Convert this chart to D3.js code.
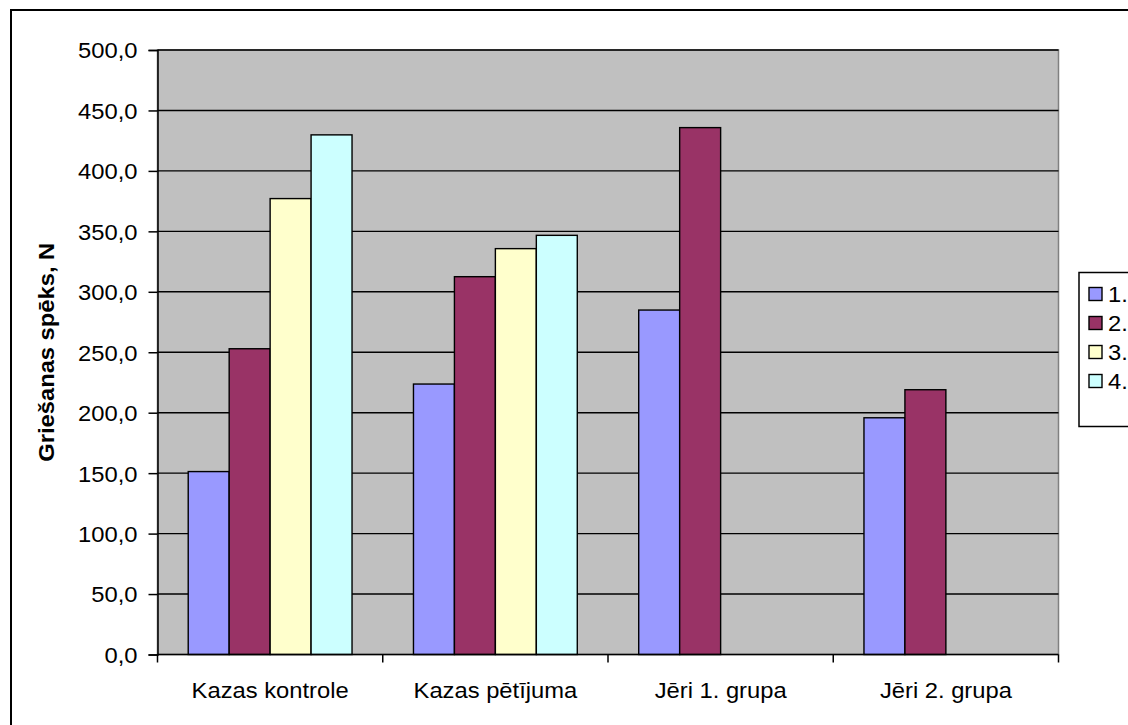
<!DOCTYPE html>
<html>
<head>
<meta charset="utf-8">
<script src="https://cdn.jsdelivr.net/npm/d3@7"></script>
<style>
  html, body { margin: 0; padding: 0; background: #fff; }
  svg { display: block; }
  text { font-family: "Liberation Sans", Arial, sans-serif; fill: #000; }
</style>
</head>
<body>
<svg id="chart" width="1128" height="725"></svg>
<script>
// Cutting force by group and measurement
const categories = ["Kazas kontrole", "Kazas pētījuma", "Jēri 1. grupa", "Jēri 2. grupa"];
const seriesNames = ["1.", "2.", "3.", "4."];
const series1 = [151.3, 223.7, 284.9, 195.8];
const series2 = [252.9, 312.5, 435.8, 219.0];
const series3 = [377.1, 335.7, null, null];
const series4 = [429.8, 346.7, null, null];
const yTicks = [0, 50, 100, 150, 200, 250, 300, 350, 400, 450, 500];
const colors = ["#9999ff", "#993366", "#ffffcc", "#ccffff"];
const yTitle = "Griešanas spēks, N";

const allSeries = [series1, series2, series3, series4];

const svg = d3.select("#chart");
const plot = { left: 157.5, right: 1058.5, top: 50, bottom: 654.5 };
const fs = 22;   // label font size
const sx = 1.08; // horizontal text stretch

// outer frame
svg.append("rect")
  .attr("x", 11).attr("y", 10)
  .attr("width", 1140).attr("height", 740)
  .attr("fill", "#fff").attr("stroke", "#000").attr("stroke-width", 2);

const y = d3.scaleLinear().domain([0, 500]).range([plot.bottom, plot.top]);
const x0 = d3.scaleBand().domain(categories).range([plot.left, plot.right]).padding(0);
const bw = x0.bandwidth();
const unit = bw / 5.5;
const x1 = d3.scaleBand().domain(d3.range(4)).range([0.75 * unit, 4.75 * unit]).padding(0);

// plot background
svg.append("rect")
  .attr("x", plot.left).attr("y", plot.top)
  .attr("width", plot.right - plot.left).attr("height", plot.bottom - plot.top)
  .attr("fill", "#c0c0c0").attr("stroke", "#808080").attr("stroke-width", 1.5);

// gridlines
svg.append("g")
  .selectAll("line")
  .data(yTicks.filter(d => d > 0))
  .join("line")
  .attr("x1", plot.left).attr("x2", plot.right)
  .attr("y1", d => y(d)).attr("y2", d => y(d))
  .attr("stroke", "#000").attr("stroke-width", 1.4);

// bars
const rows = [];
categories.forEach((c, i) => {
  allSeries.forEach((s, j) => {
    if (s[i] != null) rows.push({ cat: c, si: j, v: s[i] });
  });
});
svg.append("g")
  .selectAll("rect")
  .data(rows)
  .join("rect")
  .attr("x", d => x0(d.cat) + x1(d.si))
  .attr("y", d => y(d.v))
  .attr("width", x1.bandwidth())
  .attr("height", d => y(0) - y(d.v))
  .attr("fill", d => colors[d.si])
  .attr("stroke", "#000").attr("stroke-width", 1.4);

// y axis
const yAxis = svg.append("g")
  .attr("transform", `translate(${plot.left},0)`)
  .call(d3.axisLeft(y).tickValues(yTicks).tickSize(9).tickPadding(0)
    .tickFormat(d => d3.format(".1f")(d).replace(".", ",")));
yAxis.select(".domain").attr("stroke", "#000").attr("stroke-width", 1.5);
yAxis.selectAll(".tick line").attr("stroke", "#000").attr("stroke-width", 1.5);
yAxis.selectAll(".tick text")
  .attr("x", 0).attr("dy", "0.36em")
  .attr("font-size", fs)
  .attr("font-family", "Liberation Sans, Arial, sans-serif")
  .attr("text-anchor", "end")
  .attr("transform", `translate(-20,0) scale(${sx},1)`);

// x axis
const xAxis = svg.append("g")
  .attr("transform", `translate(0,${plot.bottom})`);
xAxis.append("line")
  .attr("x1", plot.left).attr("x2", plot.right)
  .attr("stroke", "#000").attr("stroke-width", 1.5);
xAxis.selectAll("line.tk")
  .data(d3.range(categories.length + 1))
  .join("line").attr("class", "tk")
  .attr("x1", i => plot.left + i * bw).attr("x2", i => plot.left + i * bw)
  .attr("y1", 0).attr("y2", 8)
  .attr("stroke", "#000").attr("stroke-width", 1.5);
xAxis.selectAll("text")
  .data(categories)
  .join("text")
  .attr("transform", d => `translate(${x0(d) + bw / 2},43) scale(${sx},1)`)
  .attr("text-anchor", "middle")
  .attr("font-size", fs)
  .text(d => d);

// y title
svg.append("text")
  .attr("transform", `translate(54,${(plot.top + plot.bottom) / 2}) rotate(-90) scale(${sx},1)`)
  .attr("text-anchor", "middle")
  .attr("font-size", fs)
  .attr("font-weight", "bold")
  .text(yTitle);

// legend
const lg = svg.append("g");
lg.append("rect")
  .attr("x", 1079).attr("y", 272.5)
  .attr("width", 80).attr("height", 154)
  .attr("fill", "#fff").attr("stroke", "#000").attr("stroke-width", 1.5);
const items = lg.selectAll("g.item")
  .data(seriesNames)
  .join("g").attr("class", "item")
  .attr("transform", (d, i) => `translate(1089,${294 + i * 29})`);
items.append("rect")
  .attr("x", 0).attr("y", -6.5)
  .attr("width", 13).attr("height", 13)
  .attr("fill", (d, i) => colors[i])
  .attr("stroke", "#000").attr("stroke-width", 1.4);
items.append("text")
  .attr("transform", `translate(19,0) scale(${sx},1)`)
  .attr("dy", "0.36em")
  .attr("font-size", fs)
  .text(d => d);
</script>
</body>
</html>
